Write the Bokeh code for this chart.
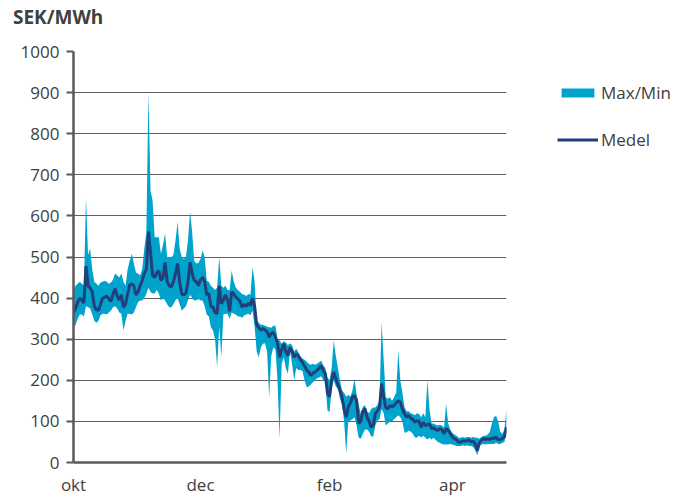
import pandas as pd
from bokeh.plotting import figure
from bokeh.layouts import column
from bokeh.models import Range1d, FixedTicker, Legend, LegendItem, ColumnDataSource, Div
from bokeh.embed import file_html
from bokeh.resources import INLINE

# ---------------- data ----------------
start_date = "2016-10-01"

mean_vals = [
    365, 375, 390, 400, 395, 388, 478, 430, 425, 415,
    380, 372, 370, 385, 400, 402, 405, 398, 392, 410,
    423, 405, 395, 408, 378, 385, 410, 432, 435, 430,
    408, 415, 430, 443, 460, 470, 562, 510, 455, 450,
    462, 467, 443, 450, 487, 440, 430, 427, 440, 460,
    484, 440, 410, 408, 412, 440, 487, 460, 443, 440,
    430, 445, 451, 440, 408, 411, 380, 378, 365, 362,
    430, 386, 395, 408, 395, 368, 415, 410, 402, 398,
    392, 378, 385, 380, 388, 382, 400, 380, 335, 328,
    322, 326, 322, 318, 305, 314, 317, 305, 290, 256,
    275, 289, 270, 260, 280, 270, 256, 264, 260, 250,
    244, 235, 225, 220, 212, 217, 220, 224, 230, 236,
    224, 215, 168, 160, 200, 220, 205, 190, 175, 159,
    130, 110, 135, 145, 160, 163, 150, 95, 100, 125,
    131, 110, 100, 86, 90, 119, 125, 134, 192, 160,
    134, 130, 139, 135, 139, 145, 150, 147, 130, 119,
    110, 115, 108, 105, 98, 102, 100, 86, 98, 90,
    92, 95, 82, 85, 80, 78, 82, 80, 70, 82,
    78, 70, 62, 58, 55, 49, 50, 53, 52, 53,
    55, 50, 52, 45, 29, 49, 55, 58, 56, 58,
    56, 60, 58, 62, 55, 56, 58, 62, 86,
]

max_vals = [
    420, 430, 435, 440, 435, 430, 645, 505, 520, 470,
    440, 435, 430, 438, 440, 442, 440, 435, 438, 445,
    460, 455, 450, 460, 440, 430, 470, 490, 508, 484,
    462, 460, 455, 470, 520, 560, 900, 662, 637, 548,
    548, 548, 508, 530, 557, 500, 500, 500, 505, 540,
    585, 520, 500, 495, 500, 540, 611, 560, 490, 484,
    486, 495, 516, 500, 443, 440, 430, 425, 420, 425,
    500, 430, 425, 430, 420, 420, 467, 440, 425, 420,
    415, 410, 408, 405, 410, 408, 475, 440, 345, 340,
    335, 335, 333, 330, 329, 328, 333, 333, 300, 297,
    289, 295, 292, 285, 290, 285, 270, 277, 268, 258,
    253, 250, 245, 240, 238, 240, 238, 240, 244, 248,
    236, 230, 207, 200, 230, 297, 260, 230, 200, 175,
    170, 160, 165, 160, 175, 204, 165, 140, 119, 135,
    140, 125, 120, 130, 134, 134, 140, 150, 341, 250,
    159, 155, 159, 150, 159, 170, 272, 200, 170, 135,
    125, 125, 120, 118, 115, 120, 118, 110, 120, 110,
    200, 130, 95, 95, 92, 90, 92, 90, 85, 143,
    95, 80, 72, 68, 65, 60, 60, 62, 60, 62,
    62, 60, 62, 60, 60, 58, 62, 65, 65, 68,
    75, 95, 110, 114, 100, 75, 70, 80, 131,
]

min_vals = [
    330, 335, 350, 360, 360, 355, 380, 378, 375, 360,
    345, 340, 345, 358, 362, 362, 360, 365, 370, 378,
    380, 375, 365, 362, 321, 345, 362, 362, 360, 365,
    378, 390, 394, 394, 400, 410, 425, 415, 411, 411,
    420, 411, 394, 400, 394, 385, 378, 378, 385, 395,
    400, 385, 370, 375, 380, 395, 408, 400, 394, 395,
    398, 394, 394, 380, 360, 355, 329, 321, 300, 232,
    330, 256, 360, 362, 362, 350, 365, 362, 360, 355,
    355, 352, 358, 360, 362, 358, 370, 330, 270, 256,
    280, 289, 290, 270, 159, 260, 280, 275, 200, 58,
    240, 256, 230, 216, 272, 240, 200, 230, 225, 225,
    222, 200, 183, 185, 190, 195, 200, 205, 207, 210,
    200, 195, 127, 122, 180, 200, 185, 180, 155, 140,
    100, 22, 100, 102, 105, 110, 90, 60, 58, 70,
    80, 80, 75, 63, 63, 90, 102, 105, 130, 120,
    90, 95, 100, 100, 105, 110, 115, 110, 100, 73,
    73, 78, 75, 70, 61, 61, 65, 61, 65, 60,
    56, 60, 56, 60, 55, 50, 48, 45, 44, 44,
    44, 45, 44, 42, 40, 40, 40, 42, 40, 42,
    40, 40, 38, 30, 17, 40, 44, 45, 44, 45,
    45, 45, 45, 48, 45, 45, 48, 50, 74,
]

month_labels = ["okt", "dec", "feb", "apr"]
month_starts = ["2016-10-01", "2016-12-01", "2017-02-01", "2017-04-01"]
y_ticks = list(range(0, 1001, 100))
unit_label = "SEK/MWh"

# ---------------- build ----------------
dates = pd.date_range(start_date, periods=len(mean_vals), freq="D")
day = [(d - dates[0]).days for d in dates]
tick_pos = [(pd.Timestamp(m) - dates[0]).days for m in month_starts]

src = ColumnDataSource(dict(day=day, mean=mean_vals, hi=max_vals, lo=min_vals))

BAND = "#00A3CC"
MEAN = "#213F7A"
TXT = "#404040"
FONT = "Open Sans"

p = figure(
    title=None,
    frame_width=433, frame_height=411,
    output_backend="svg", toolbar_location=None,
    x_range=Range1d(0, len(day) - 1), y_range=Range1d(0, 1000),
    min_border_left=73, min_border_right=170,
    min_border_top=17, min_border_bottom=34,
)
p.outline_line_color = None
p.background_fill_color = "white"
p.border_fill_color = "white"

band = p.varea(x="day", y1="lo", y2="hi", source=src, fill_color=BAND)
line = p.line(x="day", y="mean", source=src, line_color=MEAN, line_width=3)

# axes
p.xaxis.ticker = FixedTicker(ticks=tick_pos)
p.xaxis.major_label_overrides = {t: lab for t, lab in zip(tick_pos, month_labels)}
p.xaxis.major_tick_line_color = None
p.xaxis.minor_tick_line_color = None
p.xaxis.axis_line_color = "#595959"
p.xaxis.axis_line_width = 2.5
p.xaxis.major_label_text_font = FONT
p.xaxis.major_label_text_font_size = "17px"
p.xaxis.major_label_text_color = TXT
p.xaxis.major_label_standoff = 4

p.yaxis.ticker = FixedTicker(ticks=y_ticks)
p.yaxis.minor_tick_line_color = None
p.yaxis.major_tick_out = 7
p.yaxis.major_tick_in = 0
p.yaxis.major_tick_line_color = "#595959"
p.yaxis.major_tick_line_width = 2
p.yaxis.axis_line_color = "#595959"
p.yaxis.axis_line_width = 2.5
p.yaxis.major_label_text_font = FONT
p.yaxis.major_label_text_font_size = "17px"
p.yaxis.major_label_text_color = TXT
p.yaxis.major_label_standoff = 7

p.xgrid.grid_line_color = None
p.ygrid.ticker = FixedTicker(ticks=y_ticks)
p.ygrid.grid_line_color = "#5f5f5f"
p.ygrid.grid_line_width = 1.2

# legend
legend = Legend(
    items=[LegendItem(label="Max/Min", renderers=[band]),
           LegendItem(label="Medel", renderers=[line])],
    location=(51, 311),
    glyph_width=41, glyph_height=11,
    label_standoff=3, spacing=24,
    label_text_font=FONT, label_text_font_size="17px", label_text_color=TXT,
    border_line_color=None, background_fill_alpha=0,
    margin=0, padding=0,
)
p.add_layout(legend, "right")

# unit heading above the plot
header = Div(
    text=unit_label, width=300, height=34, margin=(0, 0, 0, 13),
    styles={"font-family": FONT, "font-size": "19px", "font-weight": "bold",
            "color": TXT, "line-height": "34px"},
)

layout = column(header, p, spacing=0)

open("out.html", "w").write(file_html(layout, INLINE))
